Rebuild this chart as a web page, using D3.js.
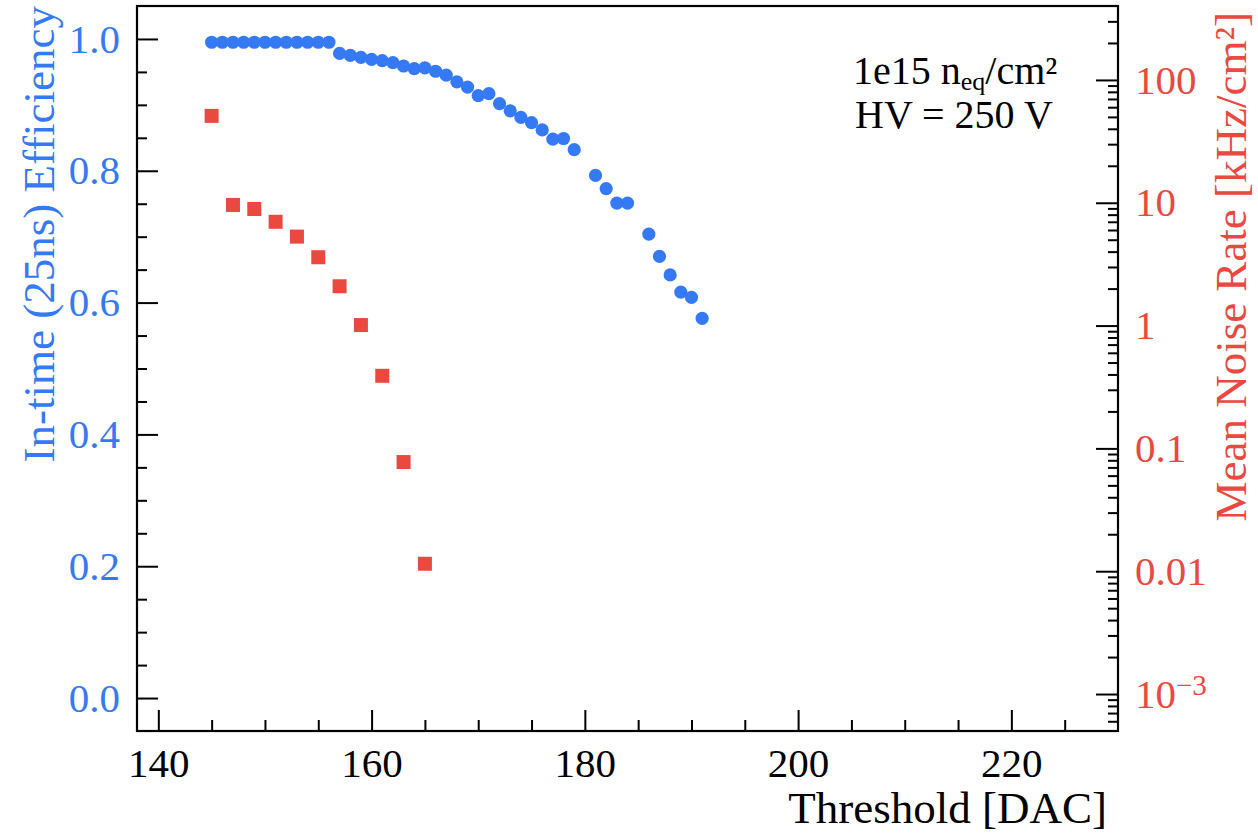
<!DOCTYPE html>
<html>
<head>
<meta charset="utf-8">
<script src="https://cdnjs.cloudflare.com/ajax/libs/d3/7.8.5/d3.min.js"></script>
<style>
  body { margin: 0; background: #fff; }
  text { font-family: "Liberation Serif", "Times New Roman", serif; }
</style>
</head>
<body>
<div id="chart"></div>
<script>
// efficiency vs threshold (blue circles, left axis)
const effThreshold = [145,146,147,148,149,150,151,152,153,154,155,156,157,158,159,160,161,162,163,164,165,166,167,168,169,170,171,172,173,174,175,176,177,178,179,181,182,183,184,186,187,188,189,190,191];
const effValues = [0.995,0.995,0.995,0.995,0.995,0.995,0.995,0.995,0.995,0.995,0.995,0.995,
  0.978,0.975,0.972,0.969,0.967,0.964,0.959,0.955,0.956,0.951,
  0.945,0.935,0.927,0.914,0.917,0.902,0.891,0.881,0.873,0.862,
  0.848,0.849,0.832,0.793,0.773,0.751,0.751,0.704,0.670,0.642,0.616,0.608,0.576];

// noise rate vs threshold (red squares, right log axis)
const noiseThreshold = [145,147,149,151,153,155,157,159,161,163,165];
const noiseRate = [51,9.6,8.9,7.0,5.3,3.6,2.09,1.01,0.39,0.0774,0.0115];

// tick labels
const xMajorTicks = [140,160,180,200,220];
const xMinorTicks = [145,150,155,165,170,175,185,190,195,205,210,215,225];
const effTicks = [0,0.2,0.4,0.6,0.8,1.0];
const effMinorTicks = [0.05,0.1,0.15,0.25,0.3,0.35,0.45,0.5,0.55,0.65,0.7,0.75,0.85,0.9,0.95];
const noiseTicks = [0.001,0.01,0.1,1,10,100];
const noiseTickLabels = ["10", "0.01", "0.1", "1", "10", "100"];

const blue = "#3579f4";
const red = "#e9493f";

let W = 1258, H = 833;
let mLeft = 137, mRight = 1118, mTop = 6, mBottom = 731;

let svg = d3.select("#chart").append("svg")
  .attr("width", W).attr("height", H);
svg.append("rect").attr("width", W).attr("height", H).attr("fill", "#fff");

let xscale = d3.scaleLinear().domain([138, 230]).range([mLeft, mRight]);
let yscale = d3.scaleLinear().domain([-0.05, 1.05]).range([mBottom, mTop]);
let rscale = d3.scaleLog().domain([5e-4, 400]).range([mBottom, mTop]);

// minor ticks for log axis (2..9 per decade)
let noiseMinorTicks = [];
[1e-4,1e-3,1e-2,1e-1,1,10,100].forEach(function(dec){
  for (let k = 2; k <= 9; k++) {
    let v = dec * k;
    if (v > 5e-4 && v < 400) noiseMinorTicks.push(v);
  }
});

// bottom axis
let xMajor = svg.append("g").attr("transform", "translate(0," + mBottom + ")")
  .call(d3.axisBottom(xscale).tickValues(xMajorTicks).tickSize(-21).tickFormat(d3.format("d")));
xMajor.selectAll("text").attr("y", 46).attr("dy", 0).attr("fill", "#000").style("font-size", "41px");
svg.append("g").attr("transform", "translate(0," + mBottom + ")")
  .call(d3.axisBottom(xscale).tickValues(xMinorTicks).tickSize(-11).tickFormat(""));

// left axis
let yMajor = svg.append("g").attr("transform", "translate(" + mLeft + ",0)")
  .call(d3.axisLeft(yscale).tickValues(effTicks).tickSize(-21).tickPadding(17).tickFormat(d3.format(".1f")));
yMajor.selectAll("text").attr("fill", blue).style("font-size", "41px");
svg.append("g").attr("transform", "translate(" + mLeft + ",0)")
  .call(d3.axisLeft(yscale).tickValues(effMinorTicks).tickSize(-10).tickFormat(""));

// right axis
let rMajor = svg.append("g").attr("transform", "translate(" + mRight + ",0)")
  .call(d3.axisRight(rscale).tickValues(noiseTicks).tickSize(-22).tickPadding(17)
    .tickFormat(function(d, i){ return noiseTickLabels[i]; }));
rMajor.selectAll("text").attr("fill", red).style("font-size", "41px");
rMajor.selectAll("text").filter(d => d === 0.001)
  .append("tspan").attr("dy", "-0.45em").style("font-size", "29px").text("\u22123");
svg.append("g").attr("transform", "translate(" + mRight + ",0)")
  .call(d3.axisRight(rscale).tickValues(noiseMinorTicks).tickSize(-10).tickFormat(""));

svg.selectAll(".domain").remove();
svg.selectAll(".tick line").attr("stroke", "#000").attr("stroke-width", 2);

// frame
svg.append("rect")
  .attr("x", mLeft).attr("y", mTop)
  .attr("width", mRight - mLeft).attr("height", mBottom - mTop)
  .attr("fill", "none").attr("stroke", "#000").attr("stroke-width", 2.2);

// data
svg.append("g").selectAll("circle")
  .data(effThreshold)
  .enter().append("circle")
  .attr("cx", d => xscale(d))
  .attr("cy", (d, i) => yscale(effValues[i]))
  .attr("r", 6.6)
  .attr("fill", blue);

svg.append("g").selectAll("rect")
  .data(noiseThreshold)
  .enter().append("rect")
  .attr("x", d => xscale(d) - 7)
  .attr("y", (d, i) => rscale(noiseRate[i]) - 7)
  .attr("width", 14).attr("height", 14)
  .attr("fill", red);

// axis titles
svg.append("text")
  .attr("x", 1107).attr("y", 823)
  .style("text-anchor", "end")
  .style("font-size", "45px")
  .text("Threshold [DAC]");

svg.append("text")
  .attr("transform", "rotate(-90)")
  .attr("x", -mTop).attr("y", 54)
  .style("text-anchor", "end")
  .style("font-size", "45px")
  .attr("fill", blue)
  .text("In-time (25ns) Efficiency");

svg.append("text")
  .attr("transform", "rotate(-90)")
  .attr("x", -12).attr("y", 1246)
  .style("text-anchor", "end")
  .style("font-size", "45px")
  .attr("fill", red)
  .text("Mean Noise Rate [kHz/cm\u00b2]");

// annotation
let ann = svg.append("text")
  .attr("x", 853).attr("y", 84)
  .style("font-size", "40px");
ann.append("tspan").text("1e15 n");
ann.append("tspan").attr("dy", 6).style("font-size", "26px").text("eq");
ann.append("tspan").attr("dy", -6).text("/cm\u00b2");

svg.append("text")
  .attr("x", 855).attr("y", 128)
  .style("font-size", "40px")
  .text("HV = 250 V");
</script>
</body>
</html>
